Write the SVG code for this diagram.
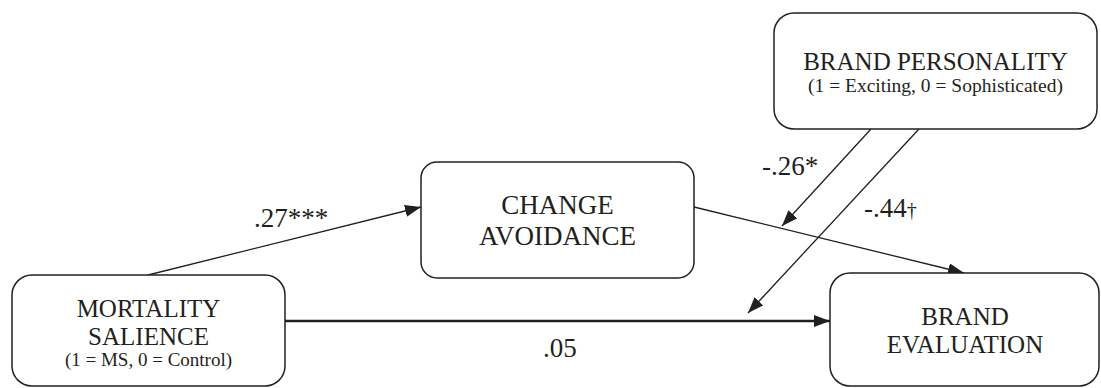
<svg xmlns="http://www.w3.org/2000/svg" width="1101" height="388" viewBox="0 0 1101 388">
<defs>
<style>
.box{fill:#fff;stroke:#231f20;stroke-width:1.5}
text{font-family:'Liberation Serif','Times New Roman',Tinos,'DejaVu Serif',serif;fill:#231f20}
.t{text-anchor:middle}
.lbl{font-size:27px}
.ln{stroke:#231f20;stroke-width:1.3;fill:none}
.thick{stroke-width:2.6}
</style>
<marker id="ah" viewBox="0 0 16 12" refX="16" refY="6" markerWidth="16" markerHeight="12" markerUnits="userSpaceOnUse" orient="auto">
<path d="M0,0 L16,6 L0,12 Z" fill="#231f20"/>
</marker>
</defs>
<rect width="1101" height="388" fill="#fff"/>
<g id="connectors">
<line class="ln" x1="148" y1="275" x2="421" y2="207" marker-end="url(#ah)"/>
<line class="ln" x1="694" y1="207" x2="964" y2="273" marker-end="url(#ah)"/>
<line class="ln thick" x1="285" y1="321" x2="830" y2="321" marker-end="url(#ah)"/>
<line class="ln" x1="871" y1="129" x2="782" y2="226" marker-end="url(#ah)"/>
<line class="ln" x1="919" y1="129" x2="748" y2="313" marker-end="url(#ah)"/>
</g>
<g id="labels">
<text class="lbl" x="254" y="227">.27***</text>
<text class="lbl" x="762" y="175">-.26*</text>
<text class="lbl" x="864" y="217">-.44<tspan font-size="20">†</tspan></text>
<text class="lbl" x="543" y="357">.05</text>
</g>
<g id="mortality">
<rect class="box" x="12" y="275" width="273" height="111" rx="20"/>
<text class="t" x="148.5" y="317" font-size="25">MORTALITY</text>
<text class="t" x="148.5" y="345" font-size="25">SALIENCE</text>
<text class="t" x="148.5" y="366" font-size="19">(1 = MS, 0 = Control)</text>
</g>
<g id="change">
<rect class="box" x="421" y="162" width="273" height="116" rx="16"/>
<text class="t" x="557.5" y="214" font-size="27">CHANGE</text>
<text class="t" x="557.5" y="245" font-size="27">AVOIDANCE</text>
</g>
<g id="personality">
<rect class="box" x="774" y="13" width="323" height="116" rx="20"/>
<text class="t" x="935.5" y="70" font-size="25">BRAND PERSONALITY</text>
<text class="t" x="935.5" y="92" font-size="19.5">(1 = Exciting, 0 = Sophisticated)</text>
</g>
<g id="evaluation">
<rect class="box" x="830" y="273" width="269" height="113" rx="20"/>
<text class="t" x="965" y="325" font-size="25">BRAND</text>
<text class="t" x="965" y="353" font-size="25">EVALUATION</text>
</g>
</svg>
